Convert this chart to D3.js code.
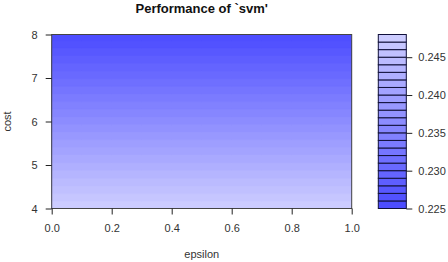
<!DOCTYPE html>
<html>
<head>
<meta charset="utf-8">
<script src="https://cdn.jsdelivr.net/npm/d3@7"></script>
<style>
  body { margin: 0; background: #fff; }
  svg { display: block; font-family: "Liberation Sans", Arial, sans-serif; }
</style>
</head>
<body>
<svg id="chart" width="448" height="262"></svg>
<script>
// tuning grid
const epsilon = [0, 0.1, 0.2, 0.3, 0.4, 0.5, 0.6, 0.7, 0.8, 0.9, 1.0]
const cost = [4, 5, 6, 7, 8]
// error per cost row (rows follow cost), across epsilon
const error = [
    [0.2479, 0.2479, 0.2479, 0.2479, 0.2479, 0.2479, 0.2479, 0.2479, 0.2479, 0.2479, 0.2479],
    [0.2423, 0.2423, 0.2423, 0.2423, 0.2423, 0.2423, 0.2423, 0.2423, 0.2423, 0.2423, 0.2423],
    [0.2366, 0.2366, 0.2366, 0.2366, 0.2366, 0.2366, 0.2366, 0.2366, 0.2366, 0.2366, 0.2366],
    [0.2309, 0.2309, 0.2309, 0.2309, 0.2309, 0.2309, 0.2309, 0.2309, 0.2309, 0.2309, 0.2309],
    [0.2252, 0.2252, 0.2252, 0.2252, 0.2252, 0.2252, 0.2252, 0.2252, 0.2252, 0.2252, 0.2252]
]
const levels = [0.225, 0.226, 0.227, 0.228, 0.229, 0.230, 0.231, 0.232, 0.233, 0.234, 0.235, 0.236,
    0.237, 0.238, 0.239, 0.240, 0.241, 0.242, 0.243, 0.244, 0.245, 0.246, 0.247, 0.248]
const xTicks = [0.0, 0.2, 0.4, 0.6, 0.8, 1.0]
const yTicks = [4, 5, 6, 7, 8]
const legendTicks = [0.225, 0.230, 0.235, 0.240, 0.245]

const svg = d3.select("#chart")
const plot = { left: 51.7, right: 351.7, top: 34.5, bottom: 208.5 }
const leg = { left: 378.3, right: 406.3 }

const x = d3.scaleLinear().domain([0, 1]).range([plot.left, plot.right])
const y = d3.scaleLinear().domain([4, 8]).range([plot.bottom, plot.top])
const ly = d3.scaleLinear().domain([levels[0], levels[levels.length - 1]]).range([plot.bottom, plot.top])

// hsv palette: hue 2/3, saturation 0.7 -> 0.2, value 1
const nBands = levels.length - 1
const bandColor = i => {
    const s = 0.7 - 0.5 * i / (nBands - 1)
    const c = Math.round(255 * (1 - s))
    return d3.rgb(c, c, 255).formatHex()
}

// filled contour
const dx = epsilon.length, dy = cost.length
const grid = error.flat()
const epsStep = epsilon[1] - epsilon[0]
const costStep = cost[1] - cost[0]
const proj = d3.geoTransform({
    point: function (px, py) {
        this.stream.point(x(epsilon[0] + (px - 0.5) * epsStep), y(cost[0] + (py - 0.5) * costStep))
    }
})
const path = d3.geoPath(proj)
const bands = d3.contours().size([dx, dy]).thresholds(levels.slice(0, -1))(grid)

svg.append("clipPath").attr("id", "clip")
    .append("rect")
    .attr("x", plot.left).attr("y", plot.top)
    .attr("width", plot.right - plot.left).attr("height", plot.bottom - plot.top)

svg.append("g").attr("clip-path", "url(#clip)")
    .selectAll("path")
    .data(bands)
    .join("path")
    .attr("d", path)
    .attr("fill", (d, i) => bandColor(i))
    .attr("stroke", (d, i) => bandColor(i))
    .attr("stroke-width", 0.3)

// box
svg.append("rect")
    .attr("x", plot.left).attr("y", plot.top)
    .attr("width", plot.right - plot.left).attr("height", plot.bottom - plot.top)
    .attr("fill", "none").attr("stroke", "#444").attr("stroke-width", 1)

// axes
const xAxis = svg.append("g")
    .attr("transform", `translate(0,${plot.bottom})`)
    .call(d3.axisBottom(x).tickValues(xTicks).tickFormat(d3.format(".1f")).tickSize(6).tickPadding(10))
const yAxis = svg.append("g")
    .attr("transform", `translate(${plot.left},0)`)
    .call(d3.axisLeft(y).tickValues(yTicks).tickFormat(d3.format("d")).tickSize(6).tickPadding(8))

// legend
svg.append("g")
    .selectAll("rect")
    .data(d3.range(nBands))
    .join("rect")
    .attr("x", leg.left)
    .attr("width", leg.right - leg.left)
    .attr("y", i => ly(levels[i + 1]))
    .attr("height", i => ly(levels[i]) - ly(levels[i + 1]))
    .attr("fill", i => bandColor(i))
    .attr("stroke", "#10103a")
    .attr("stroke-width", 1)

const lAxis = svg.append("g")
    .attr("transform", `translate(${leg.right},0)`)
    .call(d3.axisRight(ly).tickValues(legendTicks).tickFormat(d3.format(".3f")).tickSize(6).tickPadding(6))

for (const g of [xAxis, yAxis, lAxis]) {
    g.select(".domain").remove()
    g.selectAll(".tick line").attr("stroke", "#222")
    g.selectAll(".tick text").attr("fill", "#333").style("font-size", "11px")
        .style("font-family", '"Liberation Sans", Arial, sans-serif')
}

// titles
svg.append("text")
    .attr("x", (plot.left + plot.right) / 2).attr("y", 13)
    .attr("text-anchor", "middle")
    .style("font-size", "13px").style("font-weight", "bold")
    .attr("fill", "#111")
    .text("Performance of `svm'")

svg.append("text")
    .attr("x", (plot.left + plot.right) / 2).attr("y", 258)
    .attr("text-anchor", "middle")
    .style("font-size", "11px").attr("fill", "#333")
    .text("epsilon")

svg.append("text")
    .attr("transform", `translate(10.5,${(plot.top + plot.bottom) / 2}) rotate(-90)`)
    .attr("text-anchor", "middle")
    .style("font-size", "11px").attr("fill", "#333")
    .text("cost")
</script>
</body>
</html>
